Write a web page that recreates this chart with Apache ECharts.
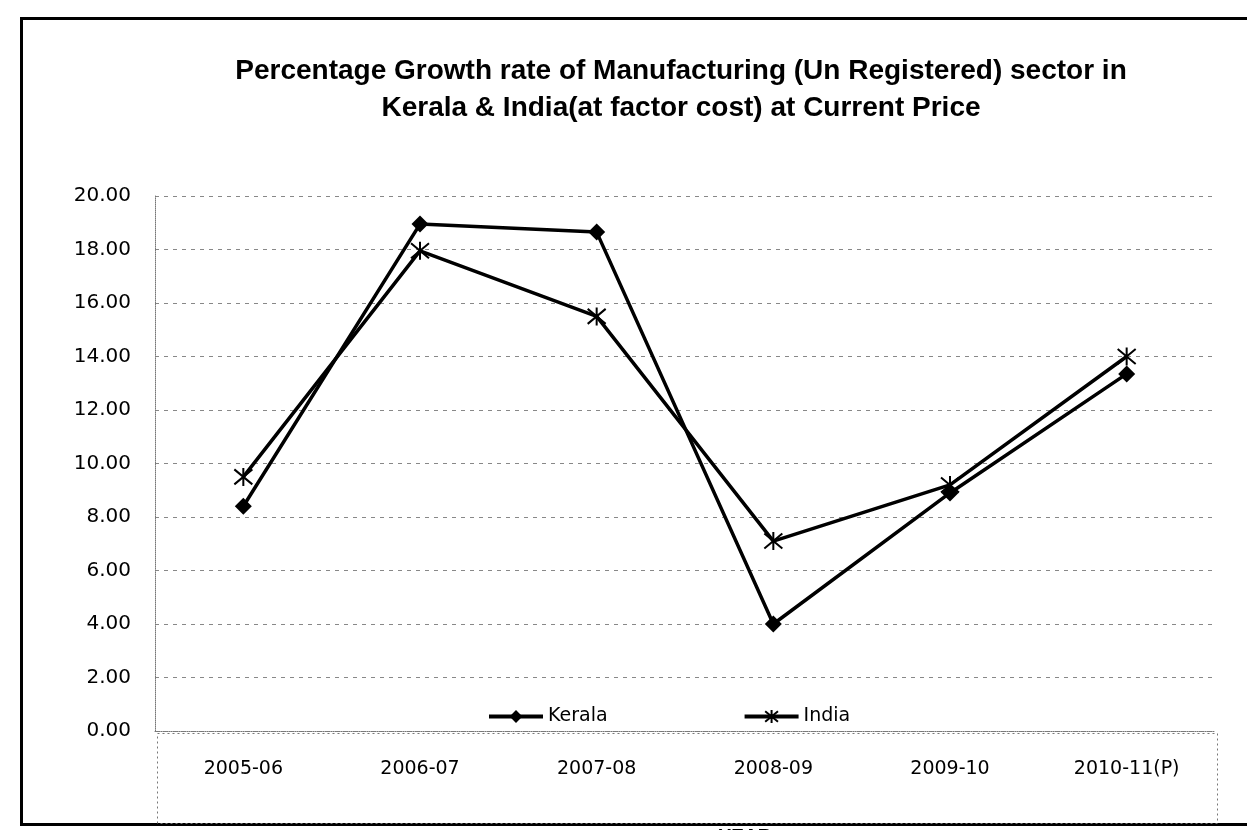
<!DOCTYPE html>
<html>
<head>
<meta charset="utf-8">
<script src="https://cdn.jsdelivr.net/npm/echarts@6/dist/echarts.min.js"></script>
<style>
html,body{margin:0;padding:0;background:#fff;}
#chart{width:1247px;height:830px;}
</style>
</head>
<body>
<div id="chart"></div>
<script>
const categories = ['2005-06', '2006-07', '2007-08', '2008-09', '2009-10', '2010-11(P)'];
const keralaValues = [8.4, 18.95, 18.65, 4.0, 8.9, 13.35];
const indiaValues = [9.5, 17.95, 15.5, 7.1, 9.2, 14.0];
const titleLines = ['Percentage Growth rate of Manufacturing (Un Registered) sector in', 'Kerala & India(at factor cost) at Current Price'];
const seriesNames = ['Kerala', 'India'];
const xAxisName = 'YEAR';

const chart = echarts.init(document.getElementById('chart'), null, {renderer: 'canvas'});
const asterisk = 'path://M0,0L10,10M10,0L0,10M5,-1L5,11';
const NARROW = '"Liberation Sans Narrow", "Liberation Sans", sans-serif';

chart.setOption({
  backgroundColor: '#fff',
  animation: false,
  title: {
    text: titleLines.join('\n'),
    left: 676,
    textAlign: 'center',
    top: 48,
    textStyle: {fontFamily: NARROW, fontWeight: 'bold', fontSize: 28, lineHeight: 37, color: '#000'}
  },
  legend: {
    data: seriesNames,
    left: 482,
    top: 702,
    itemWidth: 54,
    itemHeight: 16,
    itemGap: 135,
    lineStyle: {width: 4, color: '#000'},
    textStyle: {fontFamily: 'DejaVu Sans', fontSize: 19, color: '#000'}
  },
  grid: {left: 155, right: 32, top: 196, bottom: 99, containLabel: false, outerBoundsMode: 'none'},
  xAxis: {
    type: 'category',
    data: categories,
    boundaryGap: true,
    name: xAxisName,
    nameLocation: 'middle',
    nameGap: 96,
    nameTextStyle: {fontFamily: NARROW, fontWeight: 'bold', fontSize: 19, color: '#000', padding: [0, 0, 0, 120]},
    axisLine: {show: true, lineStyle: {color: '#777', type: 'dotted', width: 1}},
    axisTick: {show: false},
    axisLabel: {margin: 29, fontFamily: 'DejaVu Sans', fontSize: 19, color: '#000'}
  },
  yAxis: {
    type: 'value',
    min: 0,
    max: 20,
    interval: 2,
    axisLine: {show: true, lineStyle: {color: '#777', type: 'dotted', width: 1}},
    axisTick: {show: false},
    axisLabel: {margin: 24, fontFamily: 'DejaVu Sans', fontSize: 20, color: '#000', formatter: v => v.toFixed(2)},
    splitLine: {show: true, lineStyle: {color: '#888', type: [4, 5], width: 1}}
  },
  series: [
    {
      name: seriesNames[0],
      type: 'line',
      data: keralaValues,
      symbol: 'diamond',
      symbolSize: 17,
      lineStyle: {color: '#000', width: 3.5},
      itemStyle: {color: '#000'}
    },
    {
      name: seriesNames[1],
      type: 'line',
      data: indiaValues,
      symbol: asterisk,
      symbolSize: 18,
      lineStyle: {color: '#000', width: 3.5},
      itemStyle: {color: 'none', borderColor: '#000', borderWidth: 2}
    }
  ],
  graphic: [
    {type: 'rect', left: 19, top: 16, shape: {width: 1260, height: 806}, style: {fill: 'none', stroke: '#000', lineWidth: 3}, silent: true},
    {type: 'rect', left: 155, top: 731, shape: {width: 1060, height: 90}, style: {fill: 'none', stroke: '#777', lineWidth: 1, lineDash: [2, 3]}, silent: true}
  ]
});
</script>
</body>
</html>
